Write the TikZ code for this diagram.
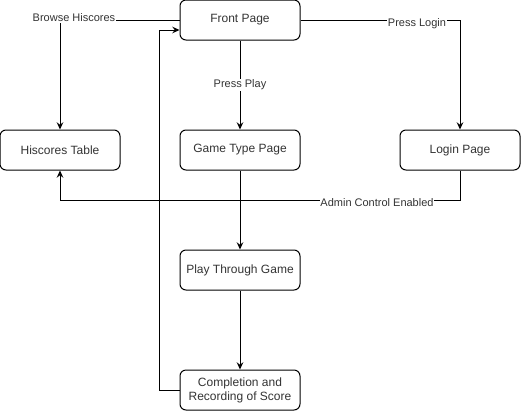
\documentclass[tikz,border=0pt]{standalone}
\usepackage{fontspec}
\setmainfont{Liberation Sans}
\usetikzlibrary{positioning, arrows.meta}

\begin{document}
\begin{tikzpicture}[x=0.75pt, y=-0.75pt,
          pbox/.style={rectangle, draw, rounded corners=4.5pt, minimum width=90pt,
                       minimum height=30pt, align=center, font=\fontsize{9}{10.5}\selectfont,
                       text=black!80, line width=0.75pt, inner sep=1pt},
          arr/.style={-{Stealth[length=5.5pt, width=5pt, inset=2pt]}, draw=black, line width=0.75pt},
          lbl/.style={fill=white, inner sep=0.5pt, font=\fontsize{8.25}{9}\selectfont, text=black!80}
        ]
        \useasboundingbox (0,0) rectangle (521,411);

        \node[pbox] (front) at (240, 20)  {Front Page};
        \node[pbox] (hisc)  at (60,  150) {Hiscores Table};
        \node[pbox] (gtype) at (240, 150) {Game Type Page};
        \node[pbox] (login) at (460, 150) {Login Page};
        \node[pbox] (play)  at (240, 270) {Play Through Game};
        \node[pbox] (comp)  at (240, 390) {Completion and\\Recording of Score};

        \draw[arr] (front.west)  -| (hisc.north);
        \draw[arr] (front.east)  -| (login.north);
        \draw[arr] (front)  -- (gtype);
        \draw[arr] (login.south) -- ++(0,30) -| (hisc.south);
        \draw[arr] (gtype) -- (play);
        \draw[arr] (play)  -- (comp);
        \draw[arr] (comp.west) -- ++(-20,0) |- ([yshift=-7.5pt]front.west);

        \node[lbl] (browse) at (74,  18)  {Browse Hiscores};
        \node[lbl] (plbl)   at (417, 24)  {Press Login};
        \node[lbl] (pplay)  at (240, 85)  {Press Play};
        \node[lbl] (admin)  at (377, 203) {Admin Control Enabled};
      \end{tikzpicture}
\end{document}
